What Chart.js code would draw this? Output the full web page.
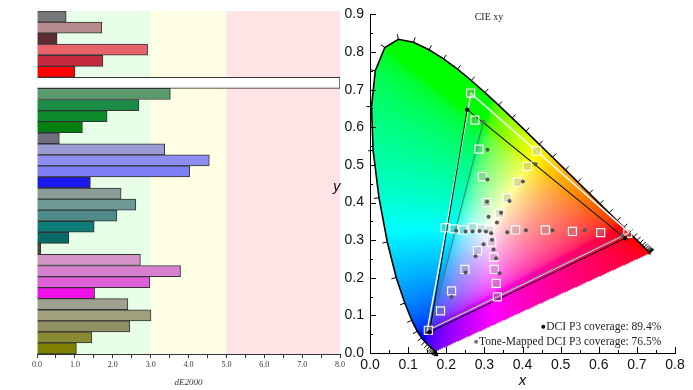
<!DOCTYPE html>
<html>
<head>
<meta charset="utf-8">
<script src="https://cdn.jsdelivr.net/npm/chart.js@4"></script>
<style>
  html, body { margin: 0; padding: 0; background: #fff; }
  #wrap { position: relative; width: 693px; height: 390px; overflow: hidden; }
  canvas { position: absolute; top: 0; }
  #bars { left: 0; }
  #cie { left: 330px; }
</style>
</head>
<body>
<div id="wrap">
  <canvas id="bars" width="350" height="390"></canvas>
  <canvas id="cie" width="363" height="390"></canvas>
</div>
<script>
// ---- left panel: dE2000 per patch ----
const patchNames = ["1","2","3","4","5","6","7","8","9","10","11","12","13","14","15","16",
  "17","18","19","20","21","22","23","24","25","26","27","28","29","30","31"];
const dEValues = [0.77, 1.71, 0.53, 2.92, 1.74, 1.0, 8.0, 3.52, 2.69, 1.85, 1.2, 0.59, 3.37, 4.55, 4.03, 1.41,
  2.22, 2.61, 2.11, 1.51, 0.84, 0.1, 2.73, 3.79, 2.98, 1.52, 2.4, 3.01, 2.45, 1.45, 1.04];
const patchColors = ["#777777","#b48a8c","#5c2c30","#e8626c","#c4283c","#ff0000","#ffffff","#5a9a6c",
  "#1a8c46","#0a8a2a","#008010","#6e6e80","#9c9cd4","#8e8ef0","#7e7ef8","#1a1af0",
  "#8c9c98","#6e9a96","#4e8c8a","#0e7c78","#0a6a68","#444444","#d494c8","#d880d0",
  "#e060d8","#f010e8","#a0a090","#a0a07c","#909064","#8a8a34","#808000"];
const bandEdges = [0, 3, 5, 8];
const bandColors = ["#e6ffe6", "#ffffe6", "#ffe4e6"];

// ---- right panel: CIE 1931 xy ----
const locusX = [0.1741,0.1740,0.1738,0.1736,0.1733,0.1730,0.1726,0.1721,0.1714,0.1703,0.1689,0.1669,0.1644,0.1611,
  0.1566,0.1510,0.1440,0.1355,0.1241,0.1096,0.0913,0.0687,0.0454,0.0235,0.0082,0.0039,0.0139,0.0389,0.0743,0.1142,
  0.1547,0.1929,0.2296,0.2658,0.3016,0.3373,0.3731,0.4087,0.4441,0.4788,0.5125,0.5448,0.5752,0.6029,0.6270,0.6482,
  0.6658,0.6801,0.6915,0.7006,0.7079,0.7140,0.7190,0.7230,0.7260,0.7283,0.7300,0.7311,0.7320,0.7327,0.7334,0.7340,0.7344,0.7347];
const locusY = [0.0050,0.0050,0.0049,0.0049,0.0048,0.0048,0.0048,0.0048,0.0051,0.0058,0.0069,0.0086,0.0109,0.0138,
  0.0177,0.0227,0.0297,0.0399,0.0578,0.0868,0.1327,0.2007,0.2950,0.4127,0.5384,0.6548,0.7502,0.8120,0.8338,0.8262,
  0.8059,0.7816,0.7543,0.7243,0.6923,0.6589,0.6245,0.5896,0.5547,0.5202,0.4866,0.4544,0.4242,0.3965,0.3725,0.3514,
  0.3340,0.3197,0.3083,0.2993,0.2920,0.2859,0.2809,0.2770,0.2740,0.2717,0.2700,0.2689,0.2680,0.2673,0.2666,0.2660,0.2656,0.2653];

const p3X = [0.680, 0.265, 0.150, 0.680];
const p3Y = [0.320, 0.690, 0.060, 0.320];
const measuredX = [0.669, 0.255, 0.156, 0.669];
const measuredY = [0.305, 0.647, 0.055, 0.305];
const toneX = [0.662, 0.297, 0.158, 0.662];
const toneY = [0.312, 0.614, 0.065, 0.312];

const targetX = [0.197,0.220,0.244,0.269,0.293,0.313,0.382,0.460,0.531,0.605,0.676,0.306,0.360,0.340,0.319,0.282,
  0.324,0.326,0.249,0.331,0.214,0.334,0.185,0.153,0.264,0.275,0.286,0.295,0.437,0.413,0.387];
const targetY = [0.333,0.330,0.327,0.333,0.330,0.327,0.327,0.327,0.323,0.320,0.318,0.400,0.412,0.371,0.295,0.272,
  0.255,0.222,0.222,0.185,0.165,0.149,0.112,0.060,0.691,0.619,0.542,0.469,0.537,0.496,0.454];
const dotX = [0.308,0.308,0.401,0.434,0.307,0.366,0.311,0.344,0.333,0.226,0.251,0.269,0.287,0.304,0.318,0.360,
  0.409,0.479,0.563,0.320,0.324,0.298,0.277,0.331,0.340,0.251,0.214];
const dotY = [0.540,0.461,0.456,0.502,0.402,0.404,0.362,0.373,0.347,0.325,0.323,0.323,0.324,0.323,0.318,0.321,
  0.326,0.326,0.326,0.301,0.275,0.289,0.257,0.252,0.212,0.214,0.149];

const coverageText = ["DCI P3 coverage: 89.4%", "Tone-Mapped DCI P3 coverage: 76.5%"];

const pts = (xs, ys) => xs.map((x, i) => ({ x: x, y: ys[i] }));

// background bands behind the bars
const bandPlugin = {
  id: "bands",
  beforeDatasetsDraw(chart) {
    const { ctx, chartArea, scales } = chart;
    ctx.save();
    for (let i = 0; i < bandColors.length; i++) {
      const x0 = scales.x.getPixelForValue(bandEdges[i]);
      const x1 = scales.x.getPixelForValue(bandEdges[i + 1]);
      ctx.fillStyle = bandColors[i];
      ctx.fillRect(x0, chartArea.top, x1 - x0, chartArea.bottom - chartArea.top);
    }
    ctx.restore();
  }
};

new Chart(document.getElementById("bars"), {
  type: "bar",
  data: {
    labels: patchNames,
    datasets: [{
      data: dEValues,
      backgroundColor: patchColors,
      borderColor: "#333",
      borderWidth: 1,
      barPercentage: 1,
      categoryPercentage: 1
    }]
  },
  options: {
    indexAxis: "y",
    responsive: false,
    animation: false,
    layout: { padding: { top: 11, right: 10, left: 0, bottom: 0 } },
    plugins: { legend: { display: false }, tooltip: { enabled: false } },
    scales: {
      x: {
        min: 0, max: 8,
        ticks: {
          stepSize: 0.5, autoSkip: false, maxRotation: 0, padding: 2,
          color: "#333",
          font: { family: "Liberation Serif", size: 8 },
          callback: v => Number.isInteger(v) ? v.toFixed(1) : ""
        },
        grid: { drawOnChartArea: false, tickLength: 4, color: "#333" },
        border: { color: "#333" },
        title: { display: true, text: "dE2000", color: "#333", padding: 2,
          font: { family: "Liberation Serif", size: 9, style: "italic" } },
        afterFit: s => { s.height = 36; }
      },
      y: {
        ticks: { display: false },
        grid: { drawOnChartArea: false, drawTicks: false },
        border: { color: "#333" },
        afterFit: s => { s.width = 37; }
      }
    }
  },
  plugins: [bandPlugin]
});

// chromaticity fill
function insideLocus(x, y) {
  let inside = false;
  const n = locusX.length;
  for (let i = 0, j = n - 1; i < n; j = i++) {
    const xi = locusX[i], yi = locusY[i], xj = locusX[j], yj = locusY[j];
    if ((yi > y) !== (yj > y) && x < (xj - xi) * (y - yi) / (yj - yi) + xi) inside = !inside;
  }
  return inside;
}
function xyToRgb(x, y) {
  const X = x / y, Y = 1, Z = (1 - x - y) / y;
  let r = 3.2406 * X - 1.5372 * Y - 0.4986 * Z;
  let g = -0.9689 * X + 1.8758 * Y + 0.0415 * Z;
  let b = 0.0557 * X - 0.2040 * Y + 1.0570 * Z;
  r = Math.max(r, 0); g = Math.max(g, 0); b = Math.max(b, 0);
  const m = Math.max(r, g, b);
  const gam = c => Math.round(255 * Math.pow(c / m, 1 / 2.2));
  return [gam(r), gam(g), gam(b)];
}

const gamutPlugin = {
  id: "gamut",
  beforeDatasetsDraw(chart) {
    const { ctx, chartArea, scales } = chart;
    const w = Math.round(chartArea.right - chartArea.left);
    const h = Math.round(chartArea.bottom - chartArea.top);
    const off = document.createElement("canvas");
    off.width = w; off.height = h;
    const octx = off.getContext("2d");
    const img = octx.createImageData(w, h);
    for (let py = 0; py < h; py++) {
      const y = scales.y.getValueForPixel(chartArea.top + py + 0.5);
      for (let px = 0; px < w; px++) {
        const x = scales.x.getValueForPixel(chartArea.left + px + 0.5);
        if (y <= 0 || !insideLocus(x, y)) continue;
        const c = xyToRgb(x, y);
        const k = (py * w + px) * 4;
        img.data[k] = c[0]; img.data[k + 1] = c[1]; img.data[k + 2] = c[2]; img.data[k + 3] = 255;
      }
    }
    octx.putImageData(img, 0, 0);
    ctx.drawImage(off, chartArea.left, chartArea.top);

    // wavelength ticks along the locus
    const cx = scales.x.getPixelForValue(0.33), cy = scales.y.getPixelForValue(0.33);
    ctx.save();
    ctx.strokeStyle = "#000";
    ctx.lineWidth = 1;
    for (let i = 0; i < locusX.length; i++) {
      const a = Math.max(i - 1, 0), b = Math.min(i + 1, locusX.length - 1);
      const tx = scales.x.getPixelForValue(locusX[b]) - scales.x.getPixelForValue(locusX[a]);
      const ty = scales.y.getPixelForValue(locusY[b]) - scales.y.getPixelForValue(locusY[a]);
      const len = Math.hypot(tx, ty) || 1;
      let nx = ty / len, ny = -tx / len;
      const px = scales.x.getPixelForValue(locusX[i]), py = scales.y.getPixelForValue(locusY[i]);
      if ((px - cx) * nx + (py - cy) * ny < 0) { nx = -nx; ny = -ny; }
      ctx.beginPath();
      ctx.moveTo(px, py);
      ctx.lineTo(px + nx * 5, py + ny * 5);
      ctx.stroke();
    }
    ctx.restore();
  },
  afterDraw(chart) {
    const { ctx, scales, chartArea } = chart;
    ctx.save();
    // inward axis ticks
    ctx.strokeStyle = "#000";
    ctx.lineWidth = 1;
    scales.x.ticks.forEach(t => {
      const px = Math.round(scales.x.getPixelForValue(t.value)) + 0.5;
      const l = t.label ? 6 : 3;
      ctx.beginPath(); ctx.moveTo(px, chartArea.bottom); ctx.lineTo(px, chartArea.bottom - l); ctx.stroke();
    });
    scales.y.ticks.forEach(t => {
      const py = Math.round(scales.y.getPixelForValue(t.value)) + 0.5;
      const l = t.label ? 6 : 3;
      ctx.beginPath(); ctx.moveTo(chartArea.left, py); ctx.lineTo(chartArea.left + l, py); ctx.stroke();
    });
    // y title, upright
    ctx.fillStyle = "#111";
    ctx.font = "italic 15px 'Liberation Sans'";
    ctx.textAlign = "left";
    ctx.textBaseline = "middle";
    ctx.fillText("y", 3, (chartArea.top + chartArea.bottom) / 2 + 3);
    // title
    ctx.font = "10px 'Liberation Serif'";
    ctx.textAlign = "center";
    ctx.fillStyle = "#222";
    ctx.fillText("CIE xy", scales.x.getPixelForValue(0.312), chartArea.top + 3);
    // coverage notes
    ctx.font = "11.5px 'Liberation Serif'";
    ctx.textAlign = "right";
    const right = scales.x.getPixelForValue(0.764);
    const rows = [scales.y.getPixelForValue(0.07), scales.y.getPixelForValue(0.03)];
    const dotCols = ["#000", "#777"];
    coverageText.forEach((txt, i) => {
      ctx.fillStyle = "#222";
      ctx.fillText(txt, right, rows[i]);
      const wTxt = ctx.measureText(txt).width;
      ctx.fillStyle = dotCols[i];
      ctx.beginPath();
      ctx.arc(right - wTxt - 3, rows[i], 2, 0, Math.PI * 2);
      ctx.fill();
    });
    ctx.restore();
  }
};

const isMajor = v => Math.abs(v * 10 - Math.round(v * 10)) < 1e-6;

new Chart(document.getElementById("cie"), {
  type: "scatter",
  data: {
    datasets: [
      { data: pts(locusX, locusY), showLine: true, borderColor: "#000", borderWidth: 1.6, pointRadius: 0, order: 7 },
      { data: pts(p3X, p3Y), showLine: true, borderColor: "#fff", borderWidth: 1.5, pointRadius: 0, order: 6 },
      { data: pts(toneX, toneY), showLine: true, borderColor: "#6a6a6a", borderWidth: 1, pointRadius: 0, order: 5 },
      { data: pts(measuredX, measuredY), showLine: true, borderColor: "#000", borderWidth: 1, pointRadius: 0, order: 4 },
      { data: pts(targetX, targetY), pointStyle: "rect", pointRadius: 5.7, borderColor: "rgba(255,255,255,0.95)",
        borderWidth: 1.2, backgroundColor: "rgba(150,150,150,0.3)", order: 3 },
      { data: pts(dotX, dotY), pointRadius: 2, backgroundColor: "#555", borderWidth: 0, order: 2 },
      { data: pts(toneX.slice(0, 3), toneY.slice(0, 3)), pointRadius: 2, backgroundColor: "#666", borderWidth: 0, order: 1 },
      { data: pts(measuredX.slice(0, 3), measuredY.slice(0, 3)), pointRadius: 2.2, backgroundColor: "#000", borderWidth: 0, order: 0 }
    ]
  },
  options: {
    responsive: false,
    animation: false,
    layout: { padding: { top: 11, right: 18, left: 0, bottom: 0 } },
    plugins: { legend: { display: false }, tooltip: { enabled: false } },
    scales: {
      x: {
        type: "linear", min: 0, max: 0.8,
        ticks: {
          stepSize: 0.05, autoSkip: false, maxRotation: 0, padding: 4,
          color: "#111", font: { family: "Liberation Sans", size: 14 },
          callback: v => isMajor(v) ? v.toFixed(1) : ""
        },
        grid: { drawOnChartArea: false, drawTicks: false },
        border: { color: "#000", width: 1 },
        title: { display: true, text: "x", color: "#111", padding: 0,
          font: { family: "Liberation Sans", size: 15, style: "italic" } },
        afterFit: s => { s.height = 37; }
      },
      y: {
        type: "linear", min: 0, max: 0.9,
        ticks: {
          stepSize: 0.05, autoSkip: false, padding: 6,
          color: "#111", font: { family: "Liberation Sans", size: 14 },
          callback: v => isMajor(v) ? v.toFixed(1) : ""
        },
        grid: { drawOnChartArea: false, drawTicks: false },
        border: { color: "#000", width: 1 },
        afterFit: s => { s.width = 40; }
      }
    }
  },
  plugins: [gamutPlugin]
});
</script>
</body>
</html>
